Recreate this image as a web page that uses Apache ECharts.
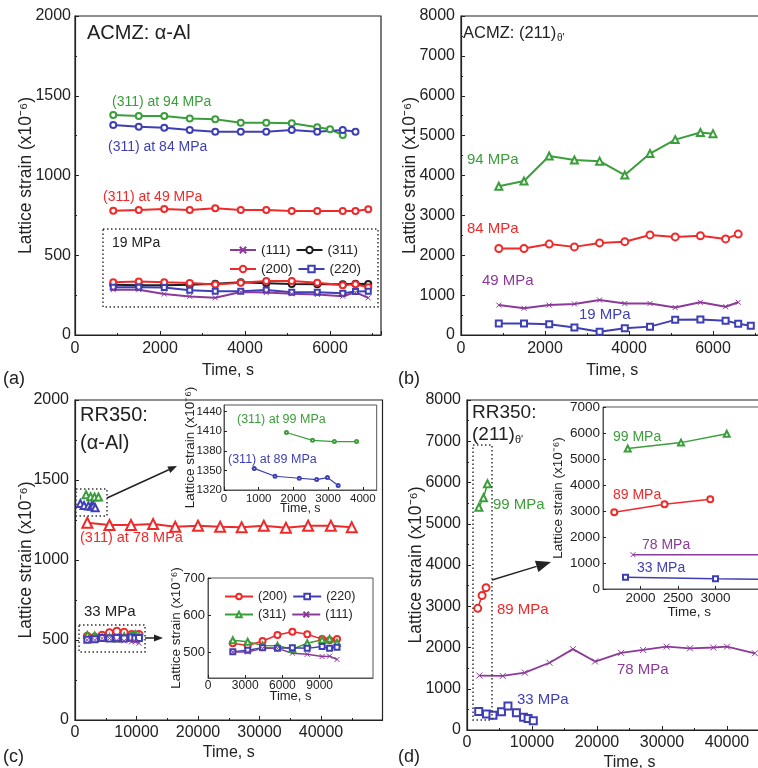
<!DOCTYPE html>
<html>
<head>
<meta charset="utf-8">
<script src="https://cdn.jsdelivr.net/npm/echarts@6/dist/echarts.min.js"></script>
<style>
  html, body { margin: 0; padding: 0; background: #fff; }
  #chart { width: 758px; height: 768px; }
</style>
</head>
<body>
<div id="chart"></div>
<script>
// ---- panel (a) ACMZ: alpha-Al, time in s, strain in 1e-6
const aT = [900, 1500, 2100, 2700, 3300, 3900, 4500, 5100, 5700, 6300, 6600, 6900];
const aT94 = [900, 1500, 2100, 2700, 3300, 3900, 4500, 5100, 5700, 6000, 6300];
const a94 = [1379, 1373, 1373, 1358, 1352, 1331, 1331, 1327, 1302, 1290, 1254];
const aT84 = [900, 1500, 2100, 2700, 3300, 3900, 4500, 5100, 5700, 6300, 6600];
const a84 = [1317, 1306, 1300, 1285, 1275, 1275, 1275, 1285, 1275, 1285, 1275];
const a49 = [779, 784, 790, 784, 794, 784, 784, 777, 777, 777, 777, 788];
const a19_111 = [284, 284, 257, 242, 233, 270, 266, 258, 254, 243, 268, 233];
const a19_311 = [315, 312, 312, 315, 322, 330, 325, 320, 318, 318, 322, 320];
const a19_200 = [330, 335, 330, 326, 316, 328, 338, 338, 328, 312, 318, 300];
const a19_220 = [300, 300, 298, 280, 275, 275, 282, 268, 268, 262, 272, 275];

// ---- panel (b) ACMZ: (211) theta'
const bT = [900, 1500, 2100, 2700, 3300, 3900, 4500, 5100, 5700, 6300, 6600, 6900];
const bT94 = [900, 1500, 2100, 2700, 3300, 3900, 4500, 5100, 5700, 6000];
const b94 = [3730, 3860, 4490, 4390, 4360, 4010, 4550, 4900, 5080, 5050];
const bT84 = [900, 1500, 2100, 2700, 3300, 3900, 4500, 5100, 5700, 6300, 6600];
const b84 = [2170, 2170, 2280, 2210, 2310, 2340, 2510, 2460, 2490, 2410, 2530];
const b49 = [750, 670, 750, 780, 880, 790, 790, 690, 820, 710, 820];
const b19 = [290, 290, 270, 190, 80, 170, 210, 380, 390, 360, 280, 230];

// ---- panel (c) RR350: alpha-Al
const cT78 = [2000, 5600, 9100, 12700, 16300, 20000, 23600, 27100, 30700, 34300, 37900, 41600, 45000];
const c78 = [1233, 1219, 1219, 1225, 1208, 1214, 1208, 1204, 1214, 1202, 1214, 1214, 1204];
const cT99 = [1800, 2550, 3180, 3820];
const c99 = [1408, 1396, 1394, 1394];
const cT89 = [870, 1470, 2170, 2670, 2980, 3290];
const c89 = [1353, 1341, 1338, 1336, 1339, 1327];
const cT33 = [2000, 3200, 4400, 5600, 6800, 8000, 9200, 9800, 10400];
const c33_200 = [524, 518, 530, 546, 555, 548, 535, 532, 535];
const c33_220 = [501, 505, 512, 510, 512, 510, 515, 510, 513];
const c33_311 = [532, 528, 518, 517, 508, 524, 533, 536, 525];
const c33_111 = [500, 500, 510, 510, 497, 494, 488, 489, 480];

// ---- panel (d) RR350: (211) theta'
const dT99 = [1830, 2540, 3150];
const d99 = [5400, 5630, 5970];
const dT89 = [1650, 2320, 2930];
const d89 = [2950, 3260, 3450];
const dT78 = [1900, 5500, 8900, 12700, 16300, 19700, 23700, 27100, 30700, 34300, 37900, 40000, 44300];
const d78 = [1320, 1310, 1390, 1630, 1960, 1660, 1870, 1940, 2020, 1980, 2000, 2020, 1860];
const dT33 = [1800, 3000, 4000, 5300, 6300, 7600, 8700, 9400, 10200];
const d33 = [450, 390, 360, 440, 580, 420, 310, 280, 225];

const FONT = 'Liberation Sans';
const INK = '#222';
const GREEN = '#3a9e3a', RED = '#ee2a2a', BLUE = '#3f3fb5', PURPLE = '#8c3a99', BLACK = '#1e1e1e';
const SYM_X = 'path://M0,0L10,10M0,10L10,0';
const YNAME = 'Lattice strain (x10⁻⁶)';

const chart = echarts.init(document.getElementById('chart'));
const zip = (t, v) => t.map((x, i) => [x, v[i]]);

function grid(left, top, width, height, inset) {
  return {
    left, top, width, height, show: true, outerBoundsMode: 'none', containLabel: false,
    borderColor: inset ? '#555' : INK, borderWidth: inset ? 1 : 1.2,
    backgroundColor: inset ? '#fff' : 'transparent'
  };
}

function axis(gi, min, max, o) {
  return {
    type: 'value', gridIndex: gi, min, max, interval: o.interval,
    name: o.name, nameLocation: 'middle', nameGap: o.gap, nameMoveOverlap: false,
    nameTextStyle: { fontFamily: FONT, fontSize: o.nameSize, color: INK },
    axisLine: { onZero: false, lineStyle: { color: o.inset ? '#555' : INK, width: o.inset ? 1 : 1.2 } },
    axisTick: { inside: true, length: o.inset ? 3 : 4, lineStyle: { color: INK }, customValues: o.custom },
    minorTick: { show: !!o.minor, splitNumber: 2, length: 2, lineStyle: { color: INK } },
    splitLine: { show: false },
    axisLabel: {
      fontFamily: FONT, fontSize: o.size, color: INK, margin: o.margin,
      showMaxLabel: o.hideMax ? false : null, customValues: o.custom,
      formatter: v => String(v)
    }
  };
}
const xAx = (gi, min, max, o) => axis(gi, min, max, Object.assign({ name: 'Time, s' }, o));
const yAx = (gi, min, max, o) => axis(gi, min, max, Object.assign({ name: YNAME }, o));

function ser(name, gi, t, v, color, symbol, size, width) {
  return {
    type: 'line', name, xAxisIndex: gi, yAxisIndex: gi, data: zip(t, v),
    symbol, symbolSize: size, showAllSymbol: true,
    lineStyle: { color, width }, itemStyle: { color, borderColor: color, borderWidth: 1 },
    emphasis: { disabled: true }, silent: true, clip: true
  };
}

function txt(x, y, s, size, color) {
  return { type: 'text', x, y, z: 100, silent: true,
    style: { text: s, fontSize: size, fontFamily: FONT, fill: color || INK, verticalAlign: 'middle', align: 'left' } };
}
function box(x, y, w, h) {
  return { type: 'rect', z: 100, silent: true, shape: { x, y, width: w, height: h },
    style: { fill: 'none', stroke: '#333', lineWidth: 1.5, lineDash: [1.5, 2.5] } };
}
function arrow(x1, y1, x2, y2, len, wid) {
  const a = Math.atan2(y2 - y1, x2 - x1);
  const bx = x2 - len * Math.cos(a), by = y2 - len * Math.sin(a);
  return { type: 'group', z: 100, silent: true, children: [
    { type: 'line', shape: { x1, y1, x2: bx, y2: by }, style: { stroke: INK, lineWidth: 1.5 } },
    { type: 'polygon', shape: { points: [[x2, y2],
      [bx - wid * Math.sin(a), by + wid * Math.cos(a)], [bx + wid * Math.sin(a), by - wid * Math.cos(a)]] },
      style: { fill: INK } }
  ] };
}

const main = { size: 16, nameSize: 17.5 };
const option = {
  animation: false,
  backgroundColor: '#fff',
  grid: [
    grid(75, 16, 306, 319),        // a
    grid(461, 16, 302.4, 319),     // b
    grid(75, 400, 307.5, 320),     // c
    grid(467, 400, 325, 330),      // d
    grid(224, 405, 152.7, 85, true),  // c inset top
    grid(208, 578, 165, 100, true),   // c inset bottom
    grid(603, 407, 172.5, 182, true)  // d inset
  ],
  xAxis: [
    xAx(0, 0, 7200, Object.assign({ interval: 2000, minor: true, gap: 28, margin: 6, hideMax: true }, main, { nameSize: 16 })),
    xAx(1, 0, 7200, Object.assign({ interval: 2000, minor: true, gap: 28, margin: 6, hideMax: true }, main, { nameSize: 16 })),
    xAx(2, 0, 50000, Object.assign({ interval: 10000, minor: true, gap: 25, margin: 5, hideMax: true }, main, { nameSize: 16 })),
    xAx(3, 0, 50000, Object.assign({ interval: 10000, minor: true, gap: 25, margin: 5, hideMax: true }, main, { nameSize: 16 })),
    xAx(4, 0, 4400, { interval: 1000, gap: 12, margin: 3, size: 11.5, nameSize: 12.5, hideMax: true, inset: true }),
    xAx(5, 0, 13300, { custom: [0, 3000, 6000, 9000], gap: 12, margin: 2, size: 12, nameSize: 13, inset: true }),
    xAx(6, 1500, 3800, { custom: [2000, 2500, 3000], gap: 16, margin: 2, size: 13.5, nameSize: 13.5, inset: true })
  ],
  yAxis: [
    yAx(0, 0, 2000, Object.assign({ interval: 500, minor: true, gap: 40, margin: 4 }, main)),
    yAx(1, 0, 8000, Object.assign({ interval: 1000, minor: true, gap: 42, margin: 6 }, main)),
    yAx(2, 0, 2000, Object.assign({ interval: 500, minor: true, gap: 40, margin: 6 }, main)),
    yAx(3, 0, 8000, Object.assign({ interval: 1000, minor: true, gap: 42, margin: 6 }, main)),
    yAx(4, 1320, 1450, { interval: 30, gap: 27, margin: 2, size: 11.5, nameSize: 13.5, hideMax: true, inset: true }),
    yAx(5, 430, 700, { custom: [500, 600, 700], gap: 25, margin: 3, size: 13, nameSize: 13.5, inset: true }),
    yAx(6, 0, 7000, { interval: 1000, gap: 38, margin: 3, size: 13.5, nameSize: 13.5, inset: true })
  ],
  legend: [
    { data: ['a(111)', 'a(311)', 'a(200)', 'a(220)'], left: 224, top: 238, width: 145,
      itemWidth: 26, itemHeight: 8, itemGap: 5, selectedMode: false, formatter: n => n.slice(1),
      textStyle: { fontFamily: FONT, fontSize: 13.5, color: INK, lineHeight: 11 } },
    { data: ['c(200)', 'c(220)', 'c(311)', 'c(111)'], left: 219, top: 585, width: 145,
      itemWidth: 28, itemHeight: 7, itemGap: 5, selectedMode: false, formatter: n => n.slice(1),
      textStyle: { fontFamily: FONT, fontSize: 12.5, color: INK, lineHeight: 11.5 } }
  ],
  series: [
    // (a)
    ser('a94', 0, aT94, a94, GREEN, 'emptyCircle', 6, 2),
    ser('a84', 0, aT84, a84, BLUE, 'emptyCircle', 6, 2),
    ser('a49', 0, aT, a49, RED, 'emptyCircle', 6, 2),
    ser('a(311)', 0, aT, a19_311, BLACK, 'emptyCircle', 6, 2),
    ser('a(200)', 0, aT, a19_200, RED, 'emptyCircle', 6, 2),
    ser('a(220)', 0, aT, a19_220, BLUE, 'emptyRect', 5, 2),
    ser('a(111)', 0, aT, a19_111, PURPLE, SYM_X, 5, 2),
    // (b)
    ser('b94', 1, bT94, b94, GREEN, 'emptyTriangle', 7, 2),
    ser('b84', 1, bT84, b84, RED, 'emptyCircle', 7, 2),
    ser('b49', 1, bT84, b49, PURPLE, SYM_X, 5, 2),
    ser('b19', 1, bT, b19, BLUE, 'emptyRect', 6, 2),
    // (c) main
    ser('c78', 2, cT78, c78, RED, 'emptyTriangle', 10, 2),
    ser('c99m', 2, cT99, c99, GREEN, 'emptyTriangle', 7, 1),
    ser('c89m', 2, cT89, c89, BLUE, 'emptyTriangle', 7, 1),
    ser('c200m', 2, cT33, c33_200, RED, 'emptyCircle', 7, 1),
    ser('c311m', 2, cT33, c33_311, GREEN, 'emptyTriangle', 6, 1),
    ser('c220m', 2, cT33, c33_220, BLUE, 'emptyRect', 6, 1),
    ser('c111m', 2, cT33, c33_111, PURPLE, SYM_X, 5, 1),
    // (c) top inset
    ser('c99', 4, cT99, c99, GREEN, 'emptyCircle', 3, 1.2),
    ser('c89', 4, cT89, c89, BLUE, 'emptyCircle', 3, 1.2),
    // (c) bottom inset
    ser('c(200)', 5, cT33, c33_200, RED, 'emptyCircle', 6, 1.5),
    ser('c(311)', 5, cT33, c33_311, GREEN, 'emptyTriangle', 6, 1.5),
    ser('c(220)', 5, cT33, c33_220, BLUE, 'emptyRect', 5, 1.5),
    ser('c(111)', 5, cT33, c33_111, PURPLE, SYM_X, 5, 1.5),
    // (d) main
    ser('d99', 3, dT99, d99, GREEN, 'emptyTriangle', 7, 1.5),
    ser('d89', 3, dT89, d89, RED, 'emptyCircle', 7, 1.5),
    ser('d78', 3, dT78, d78, PURPLE, SYM_X, 6, 1.8),
    ser('d33', 3, dT33, d33, BLUE, 'emptyRect', 7, 1.2),
    // (d) inset
    ser('d99i', 6, dT99, d99, GREEN, 'emptyTriangle', 6, 1.5),
    ser('d89i', 6, dT89, d89, RED, 'emptyCircle', 6, 1.5),
    ser('d78i', 6, dT78, d78, PURPLE, SYM_X, 5, 1.5),
    ser('d33i', 6, dT33, d33, BLUE, 'emptyRect', 5, 1.5)
  ],
  graphic: [
    txt(3, 379, '(a)', 18), txt(398, 379, '(b)', 18), txt(3, 757, '(c)', 18), txt(398, 757, '(d)', 18),
    // (a)
    txt(87, 33, 'ACMZ: α-Al', 20),
    txt(112, 102, '(311) at 94 MPa', 14, GREEN),
    txt(108, 147, '(311) at 84 MPa', 14, BLUE),
    txt(103, 197, '(311) at 49 MPa', 14, RED),
    box(103, 229, 275, 78),
    txt(112, 243, '19 MPa', 14),
    // (b)
    txt(463, 33, 'ACMZ: (211)', 16.5), txt(557, 38, "θ'", 10),
    txt(467, 160, '94 MPa', 15, GREEN),
    txt(467, 229, '84 MPa', 15, RED),
    txt(482, 281, '49 MPa', 15, PURPLE),
    txt(579, 315, '19 MPa', 15, BLUE),
    // (c)
    txt(80, 415, 'RR350:', 20), txt(80, 443, '(α-Al)', 20),
    box(76, 489, 31, 27), arrow(107, 498, 177, 466, 9, 3.5),
    txt(80, 538, '(311) at 78 MPa', 14.5, RED),
    txt(84, 612, '33 MPa', 15),
    box(79, 625, 66, 27), arrow(145, 638, 163, 638, 9, 3.5),
    txt(237, 420, '(311) at 99 MPa', 12.5, GREEN),
    txt(228, 460, '(311) at 89 MPa', 12.5, BLUE),
    // (d)
    txt(472, 413, 'RR350:', 19), txt(472, 435, '(211)', 19), txt(515, 440, "θ'", 11),
    box(473, 445, 19, 275), arrow(492, 580, 551, 562, 15, 6),
    txt(493, 505, '99 MPa', 15, GREEN),
    txt(497, 610, '89 MPa', 15, RED),
    txt(617, 670, '78 MPa', 15, PURPLE),
    txt(517, 700, '33 MPa', 15, BLUE),
    txt(613, 437, '99 MPa', 14, GREEN),
    txt(613, 495, '89 MPa', 14, RED),
    txt(642, 545, '78 MPa', 14, PURPLE),
    txt(637, 568, '33 MPa', 14, BLUE)
  ]
};
chart.setOption(option);
</script>
</body>
</html>
